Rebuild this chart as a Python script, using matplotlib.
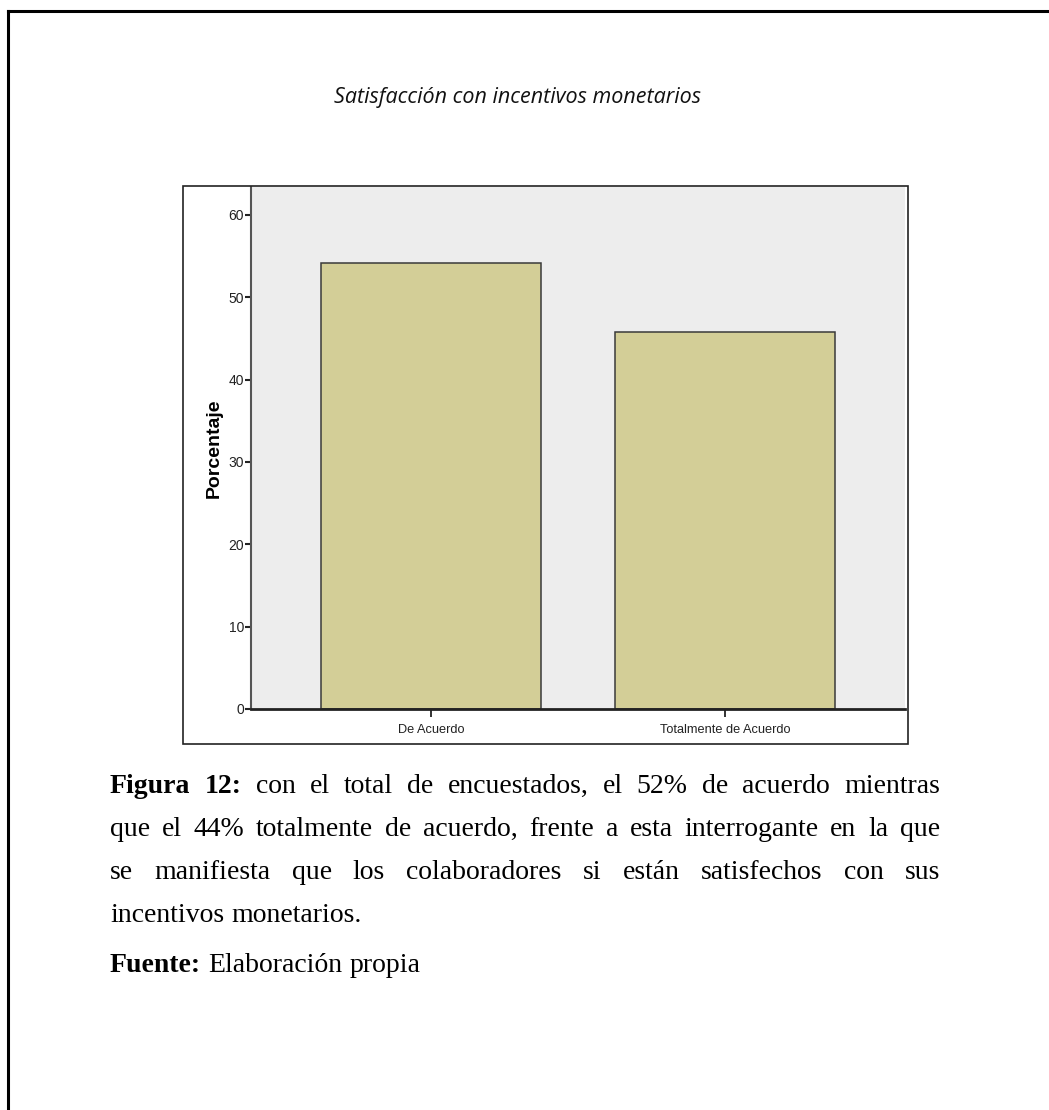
import matplotlib.pyplot as plt
from matplotlib.lines import Line2D
from matplotlib.patches import Rectangle

# %%
categories = ['De Acuerdo', 'Totalmente de Acuerdo']
porcentaje = [54.2, 45.8]
yticks = [0, 10, 20, 30, 40, 50, 60]

title = 'Satisfacción con incentivos monetarios'
caption_lines = [
    'Figura 12: con el total de encuestados, el 52% de acuerdo mientras',
    'que el 44% totalmente de acuerdo, frente a esta interrogante en la que',
    'se manifiesta que los colaboradores si están satisfechos con sus',
    'incentivos monetarios.',
]
fuente = ['Fuente:', 'Elaboración propia']

# %%
W, H = 1049, 1110
fig = plt.figure(figsize=(W / 100, H / 100), dpi=100)
fig.patch.set_facecolor('white')


def fx(x):
    return x / W


def fy(y):
    return 1 - y / H


# page frame (top and left edges)
fig.add_artist(Line2D([fx(8), 1], [fy(11), fy(11)], color='black', lw=2.2))
fig.add_artist(Line2D([fx(8), fx(8)], [fy(11), 0], color='black', lw=2.2))

# title
fig.text(fx(518), fy(98), title, ha='center', va='center', fontsize=15.5,
         fontstyle='italic', family='Open Sans', color='#111111')

# chart box
fig.add_artist(Rectangle((fx(183), fy(744)), fx(908) - fx(183), fy(186) - fy(744),
                         transform=fig.transFigure, fill=False, ec='#222222', lw=1.2))

sans = ['Liberation Sans', 'DejaVu Sans']
ax = fig.add_axes([fx(251), fy(709), fx(905) - fx(251), fy(187) - fy(709)])
ax.set_facecolor('#ededed')
ax.bar(range(len(categories)), porcentaje, width=0.75, color='#d3ce97',
       edgecolor='#3a3a3a', linewidth=1.1, zorder=3)
ax.set_xlim(-0.614, 1.614)
ax.set_ylim(0, 63.4)
ax.set_yticks(yticks)
ax.set_yticklabels([str(v) for v in yticks], family=sans, fontsize=10, color='#222222')
ax.set_xticks(range(len(categories)))
ax.set_xticklabels(categories, family=sans, fontsize=9.2, color='#222222')
ax.tick_params(axis='y', length=4.5, width=1.5, pad=0.5, color='#222222')
ax.tick_params(axis='x', length=6, width=1.3, pad=5, color='#222222')
ax.set_ylabel('Porcentaje', fontsize=14, fontweight='bold', family=sans,
              labelpad=4)
for s in ['top', 'right']:
    ax.spines[s].set_visible(False)
ax.spines['left'].set_color('#555555')
ax.spines['left'].set_linewidth(1.5)
ax.spines['bottom'].set_color('#222222')
ax.spines['bottom'].set_linewidth(2)
ax.spines['bottom'].set_zorder(4)

# %% caption, justified
serif = ['Liberation Serif', 'DejaVu Serif']
fs = 20
renderer = fig.canvas.get_renderer()


def text_width(s, weight='normal'):
    t = fig.text(0, 0, s, family=serif, fontsize=fs, fontweight=weight)
    w = t.get_window_extent(renderer).width
    t.remove()
    return w


def place_line(words, y, x0, x1, bold_n=0, justify=True):
    texts = []
    for i, w in enumerate(words):
        t = fig.text(0, 0, w, family=serif, fontsize=fs, va='baseline',
                     fontweight='bold' if i < bold_n else 'normal', color='black')
        texts.append(t)
    widths = [t.get_window_extent(renderer).width for t in texts]
    space = text_width('a a') - 2 * text_width('a')
    gap = (x1 - x0 - sum(widths)) / (len(words) - 1) if justify else space
    x = x0
    for t, w in zip(texts, widths):
        t.set_position((fx(x), fy(y)))
        x += w + gap


x_left, x_right = 110, 940
baselines = [793, 836, 879, 922]
for i, line in enumerate(caption_lines):
    words = line.split()
    place_line(words, baselines[i], x_left, x_right,
               bold_n=2 if i == 0 else 0, justify=(i < len(caption_lines) - 1))

place_line(fuente[0].split() + fuente[1].split(), 972, x_left, x_right,
           bold_n=1, justify=False)

fig.savefig('out.png', dpi=100)
